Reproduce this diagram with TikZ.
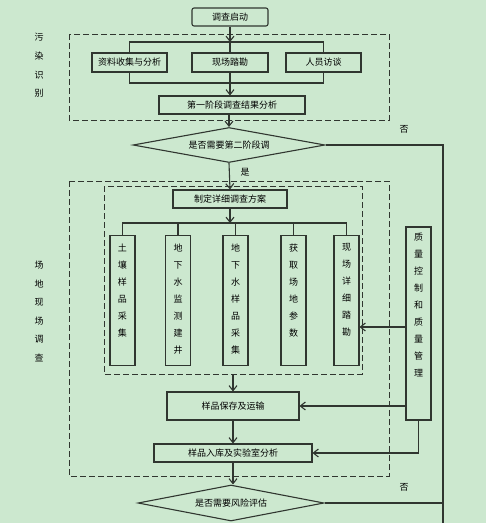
\documentclass[tikz,border=0pt]{standalone}
\usepackage{fontspec}
\setmainfont{Noto Sans CJK SC}
\usetikzlibrary{shapes.geometric,arrows.meta}
\definecolor{bggreen}{RGB}{204,232,207}
\definecolor{linegray}{RGB}{48,54,48}
\newcommand{\coltext}[2]{\parbox[c][#1][t]{12pt}{\centering\fontsize{9}{17}\selectfont #2}}

\begin{document}
\begin{tikzpicture}[x=1pt, y=-1pt, font=\fontsize{9}{11}\selectfont,
    box/.style={draw=linegray, line width=1.1pt, inner sep=0pt, minimum height=18pt},
    vbox/.style={box, minimum width=25pt, minimum height=130pt},
    choice/.style={draw=linegray, line width=1.1pt, diamond, aspect=5.5, inner sep=0pt},
    frame/.style={draw=linegray, line width=1pt, dash pattern=on 6pt off 3pt},
    link/.style={draw=linegray, line width=1.1pt},
    arr/.style={link, -{Straight Barb[length=5pt,width=8pt]}},
    side/.style={align=center, font=\fontsize{9}{18.6}\selectfont}]
    % background
    \fill[bggreen] (0,0) rectangle (486,523);
    \useasboundingbox (0,0) rectangle (486,523);

    % Start and first stage
    \node[box, rounded corners=2pt, minimum width=76pt] (start) at (230,17) {调查启动};
    \draw[frame] (69,34) rectangle (389,120);
    \node[side] (stage1) at (39,65.5) {污\\染\\识\\别};
    \node[box, minimum width=75pt, minimum height=19pt] (collect) at (129.5,62.5) {资料收集与分析};
    \node[box, minimum width=76pt, minimum height=19pt] (survey) at (230,62.5) {现场踏勘};
    \node[box, minimum width=75pt, minimum height=19pt] (interview) at (323.5,62.5) {人员访谈};
    \node[box, minimum width=146pt] (first) at (232,105) {第一阶段调查结果分析};
    \coordinate (split1) at (230,42);
    \coordinate (merge1) at (230,83);
    \draw[arr] (start) -- (split1);
    \draw[link] (collect.north) |- (split1) -| (interview.north);
    \draw[link] (survey.north) -- (split1);
    \draw[link] (collect.south) |- (merge1) -| (interview.south);
    \draw[arr] (survey.south) -- (survey.south |- first.north);

    % Decision for second stage
    \node[choice, minimum width=192pt, minimum height=35pt] (q1) at (229,145) {是否需要第二阶段调};
    \draw[arr] (first.south -| q1.north) -- (q1.north);
    \coordinate (noturn) at (443,145);
    \coordinate (noend) at (443,523);
    \draw[link] (q1.east) -- (noturn) -- (noend);
    \node (no1) at (404,129) {否};

    % Second stage
    \draw[frame] (69,181) rectangle (389,476);
    \draw[frame] (104,186) rectangle (362,374);
    \node[side] (stage2) at (39,311.5) {场\\地\\现\\场\\调\\查};
    \node[box, minimum width=114pt] (plan) at (230,199) {制定详细调查方案};
    \draw[arr] (q1.south) -- (plan.north);
    \node (yes1) at (245,172) {是};
    \node[vbox] (b1) at (122.5,300.5) {\coltext{114pt}{土\\壤\\样\\品\\采\\集}};
    \node[vbox] (b2) at (178,300.5) {\coltext{114pt}{地\\下\\水\\监\\测\\建\\井}};
    \node[vbox] (b3) at (235.5,300.5) {\coltext{114pt}{地\\下\\水\\样\\品\\采\\集}};
    \node[vbox] (b4) at (293.5,300.5) {\coltext{114pt}{获\\取\\场\\地\\参\\数}};
    \node[vbox] (b5) at (346.5,300.5) {\coltext{114pt}{现\\场\\详\\细\\踏\\勘}};
    \coordinate (split2) at (230,223);
    \draw[arr] (plan) -- (split2);
    \draw[link] (b1.north) |- (split2) -| (b5.north);
    \foreach \b in {b2,b3,b4}
        \draw[link] (\b.north) -- (\b.north |- split2);

    % Sampling and lab analysis
    \coordinate (inbottom) at (233,374);
    \node[box, minimum width=132pt, minimum height=28pt] (keep) at (233,406) {样品保存及运输};
    \node[box, minimum width=158pt] (lab) at (233,453) {样品入库及实验室分析};
    \draw[arr] (inbottom) -- (keep);
    \draw[arr] (keep) -- (lab);

    % Quality control
    \node[box, minimum width=25pt, minimum height=193pt] (qc) at (418.5,323.5) {\coltext{181pt}{质\\量\\控\\制\\和\\质\\量\\管\\理}};
    \draw[arr] (qc.west |- 0,327) -- (b5.east |- 0,327);
    \draw[arr] (qc.west |- keep.east) -- (keep.east);
    \draw[arr] (qc.south) |- (lab.east);

    % Decision for risk assessment
    \node[choice, minimum width=186pt, minimum height=36pt] (q2) at (231,503) {是否需要风险评估};
    \draw[arr] (lab.south) -- (lab.south |- q2.north);
    \draw[link] (q2.east) -- (q2.east -| noturn);
    \node (no2) at (404,487) {否};
\end{tikzpicture}
\end{document}
